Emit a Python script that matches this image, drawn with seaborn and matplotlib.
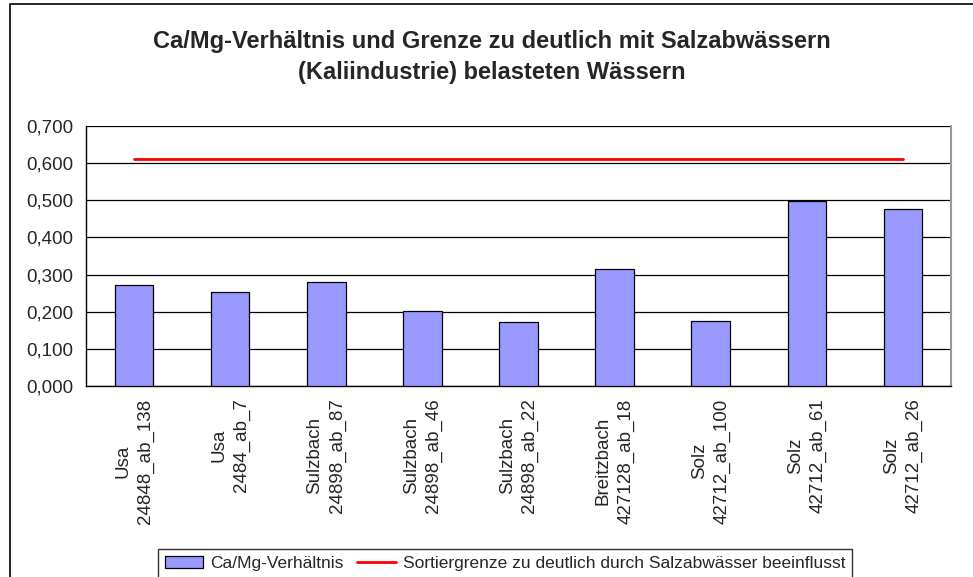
import numpy as np
import pandas as pd
import matplotlib
matplotlib.use("Agg")
import matplotlib.pyplot as plt
from matplotlib.ticker import FuncFormatter, MultipleLocator
from matplotlib.patches import Patch, Rectangle
from matplotlib.lines import Line2D
import seaborn as sns

# data
stations = ["Usa", "Usa", "Sulzbach", "Sulzbach", "Sulzbach",
            "Breitzbach", "Solz", "Solz", "Solz"]
samples = ["24848_ab_138", "2484_ab_7", "24898_ab_87", "24898_ab_46", "24898_ab_22",
           "427128_ab_18", "42712_ab_100", "42712_ab_61", "42712_ab_26"]
ca_mg_ratio = [0.273, 0.253, 0.281, 0.202, 0.173, 0.316, 0.176, 0.498, 0.477]
grenze = 0.61

labels = [f"{s}\n{p}" for s, p in zip(stations, samples)]
df = pd.DataFrame({"probe": labels, "ratio": ca_mg_ratio, "grenze": grenze})

sns.set_style("white")
plt.rcParams["font.family"] = ["Liberation Sans", "DejaVu Sans"]

fig = plt.figure(figsize=(9.73, 5.77), dpi=100)
ax = fig.add_axes([86 / 973, 1 - 386 / 577, (951 - 86) / 973, (386 - 126) / 577])

bar_color = "#9999ff"
sns.barplot(data=df, x="probe", y="ratio", color=bar_color, width=0.4,
            edgecolor="black", linewidth=0.9, saturation=1, ax=ax, zorder=3)
sns.lineplot(data=df, x="probe", y="grenze", color="red", linewidth=2, ax=ax,
             zorder=4, sort=False)

ax.set_ylim(0, 0.7)
ax.set_xlim(-0.5, len(labels) - 0.5)
ax.yaxis.set_major_locator(MultipleLocator(0.1))
ax.yaxis.set_major_formatter(FuncFormatter(lambda v, p: f"{v:.3f}".replace(".", ",")))
ax.grid(axis="y", color="black", linewidth=0.9, zorder=0)
ax.set_axisbelow(True)
ax.set_xlabel("")
ax.set_ylabel("")

# labels at bar centres, tick marks at category boundaries
ax.set_xticks(np.arange(len(labels)))
ax.set_xticklabels(labels, rotation=90, fontsize=13.5, ha="center", va="top",
                   multialignment="center", linespacing=1.4)
ax.tick_params(axis="x", length=0, pad=9)
ax.set_xticks(np.arange(len(labels) + 1) - 0.5, minor=True)
ax.tick_params(axis="x", which="minor", length=6, width=1, color="black", direction="out")
ax.tick_params(axis="y", length=5, width=1, color="black", direction="out", labelsize=13.5, pad=4)

for side in ["left", "bottom"]:
    ax.spines[side].set_color("black")
    ax.spines[side].set_linewidth(1)
ax.spines["top"].set_visible(False)
ax.spines["right"].set_color("#999999")
ax.spines["right"].set_linewidth(1.5)

fig.text(492 / 973, 1 - 57 / 577,
         "Ca/Mg-Verhältnis und Grenze zu deutlich mit Salzabwässern\n(Kaliindustrie) belasteten Wässern",
         ha="center", va="center", fontsize=17, fontweight="bold", linespacing=1.45)

handles = [Patch(facecolor=bar_color, edgecolor="black", linewidth=0.9),
           Line2D([0], [0], color="red", linewidth=2)]
leg = fig.legend(handles, ["Ca/Mg-Verhältnis",
                           "Sortiergrenze zu deutlich durch Salzabwässer beeinflusst"],
                 loc="upper center", bbox_to_anchor=(505 / 973, 1 - 549 / 577), ncol=2,
                 fontsize=12.5, frameon=True, fancybox=False, borderaxespad=0,
                 handlelength=2.2, handletextpad=0.4, columnspacing=0.8,
                 borderpad=0.4)
leg.get_frame().set_edgecolor("black")
leg.get_frame().set_linewidth(1)

# outer chart border (left and top visible in the reference)
fig.patches.append(Rectangle((10 / 973, -0.05), 1.2, 1 - 4 / 577 + 0.05,
                             transform=fig.transFigure, fill=False,
                             edgecolor="black", linewidth=1.2, zorder=0))

fig.savefig("out.png", dpi=100)
